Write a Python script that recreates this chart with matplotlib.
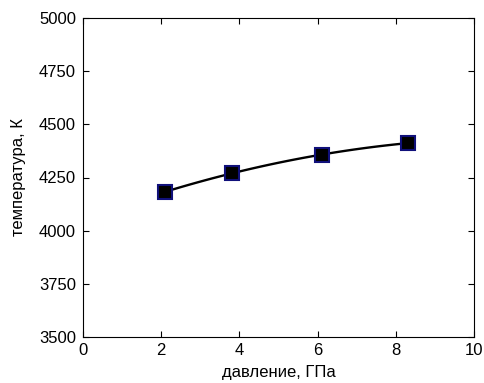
import numpy as np
import matplotlib
matplotlib.use('Agg')
import matplotlib.pyplot as plt

plt.rcParams['font.family'] = ['Liberation Sans', 'DejaVu Sans']

# давление, ГПа / температура, К
pressure = [2.1, 3.8, 6.1, 8.3]
temperature = [4182, 4271, 4356, 4412]

x_ticks = [0, 2, 4, 6, 8, 10]
y_ticks = [3500, 3750, 4000, 4250, 4500, 4750, 5000]

fig = plt.figure(figsize=(4.84, 3.83), dpi=100)
ax = fig.add_axes([83 / 484, 1 - 337 / 383, (474 - 83) / 484, (337 - 18) / 383])

# гладкая кривая через точки (квадратичная аппроксимация)
coef = np.polyfit(pressure, temperature, 2)
xs = np.linspace(min(pressure), max(pressure), 100)
ax.plot(xs, np.polyval(coef, xs), color='black', lw=1.7, zorder=2)
ax.plot(pressure, temperature, 's', ms=10.5, mfc='black', mec='#10107a', mew=1.5, zorder=3)

ax.set_xlim(0, 10)
ax.set_ylim(3500, 5000)
ax.set_xticks(x_ticks)
ax.set_yticks(y_ticks)
ax.tick_params(direction='in', top=True, right=True, labelsize=12, length=4, width=0.8)
ax.tick_params(axis='x', pad=4)
ax.tick_params(axis='y', pad=5)
for s in ax.spines.values():
    s.set_linewidth(0.8)
ax.set_xlabel('давление, ГПа', fontsize=12, labelpad=5)
ax.set_ylabel('температура, К', fontsize=12, labelpad=9)

fig.savefig('out.png', dpi=100)
